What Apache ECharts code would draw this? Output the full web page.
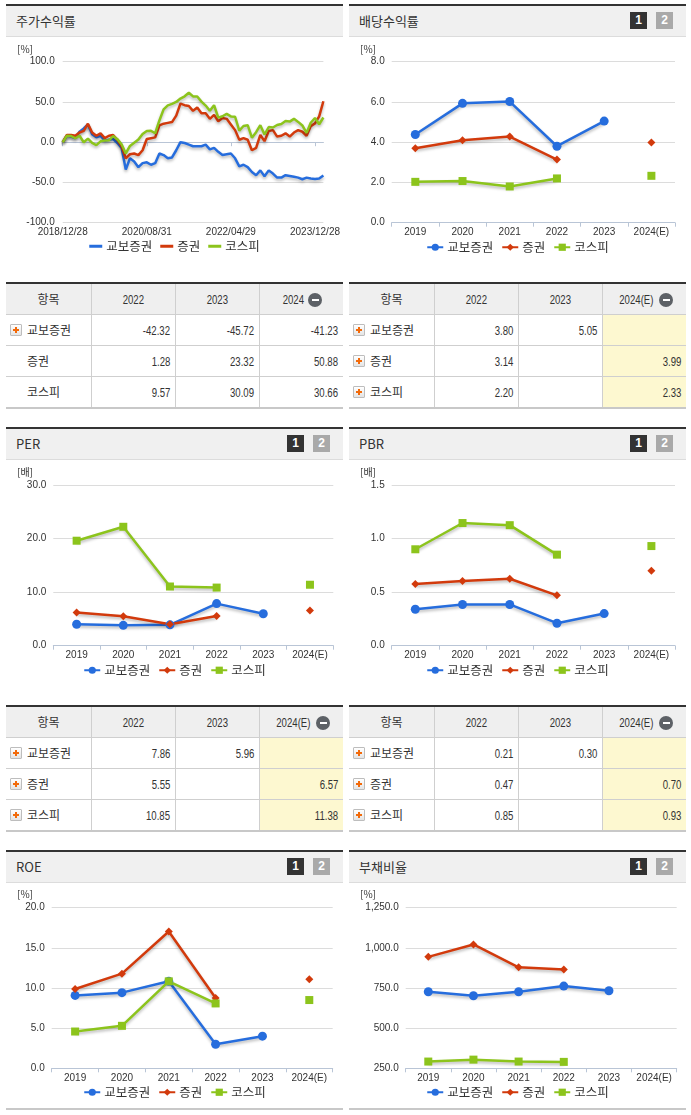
<!DOCTYPE html>
<html><head><meta charset="utf-8">
<script src="https://cdn.jsdelivr.net/npm/echarts@6/dist/echarts.min.js"></script>
<style>
html,body{margin:0;padding:0}
body{width:691px;height:1115px;background:#fff;position:relative;overflow:hidden;font-family:'Noto Sans CJK KR','Noto Sans',sans-serif;color:#333}
.hdr{position:absolute;width:337px;height:30px;background:#f0f0f0;border-top:2px solid #333;border-bottom:1px solid #dcdcdc}
.hdr .t{position:absolute;left:10px;top:0;line-height:30px;font-size:13px;color:#333}
.btn{position:absolute;top:6px;width:17px;height:17px;font:bold 12px 'Liberation Sans',Arial,sans-serif;color:#fff;text-align:center;line-height:17px}
.b1{left:281px;background:#333}.b2{left:307px;background:#a9a9a9}
.chart{position:absolute;width:337px;height:222px}
.cell{position:absolute;box-sizing:border-box;font-size:12px;white-space:nowrap}
.num{text-align:right;padding-right:5px}
.sq{display:inline-block;font-family:'Liberation Sans',Arial,sans-serif;font-size:12px;transform:scaleX(0.8)}
.num .sq{transform-origin:100% 50%}
.lab{font-size:12px}
.pl{position:absolute;left:4px;width:10px;height:10px;border:1px solid #bdbdbd;background:linear-gradient(#fff,#e4e4e4);border-radius:1px}
.pl:before{content:'';position:absolute;left:2px;top:4px;width:6px;height:2px;background:#f26a0a}
.pl:after{content:'';position:absolute;left:4px;top:2px;width:2px;height:6px;background:#f26a0a}
.mi{display:inline-block;width:14px;height:14px;border-radius:50%;background:#5d6166;position:relative;vertical-align:middle;margin-left:2px;margin-top:-2px}
.mi:after{content:'';position:absolute;left:3.5px;top:6px;width:7px;height:2px;background:#fff}
.line{position:absolute}
</style></head><body>
<script>
// ---------- DATA ----------
const seriesNames = ['교보증권', '증권', '코스피'];
const years = ['2019', '2020', '2021', '2022', '2023', '2024(E)'];

const stockDates = ['2018/12/28','2019/01','2019/02','2019/03','2019/04','2019/05','2019/06','2019/07','2019/08','2019/09','2019/10','2019/11','2019/12',
 '2020/01','2020/02','2020/03','2020/04','2020/05','2020/06','2020/07','2020/08/31','2020/09','2020/10','2020/11','2020/12',
 '2021/01','2021/02','2021/03','2021/04','2021/05','2021/06','2021/07','2021/08','2021/09','2021/10','2021/11','2021/12',
 '2022/01','2022/02','2022/03','2022/04/29','2022/05','2022/06','2022/07','2022/08','2022/09','2022/10','2022/11','2022/12',
 '2023/01','2023/02','2023/03','2023/04','2023/05','2023/06','2023/07','2023/08','2023/09','2023/10','2023/11','2023/12/28',
 '2024/01','2024/03'];
const stockKyobo = [0,8,7,5,13,17,22,10,6,8, 2,3,4,-1,-7,-34,-20,-24,-31,-26, -25,-28,-26,-14,-16,-20,-19,-10,0,-1,
 -3,-5,-5,-5,-3,-9,-7,-12,-16,-15, -14,-20,-30,-28,-31,-37,-41,-35,-42.32,-35, -39,-44,-44,-41,-42,-43,-44,-46,-44,-45, -45.72,-45,-41.23];
const stockSec = [0,9,9,8,12,14,23,12,8,11, 5,8,9,3,-5,-20,-15,-14,-16,-10, 4,5,6,21,23,24,25,33,48,46,
 45,39,43,36,36,29,34,26,30,29, 22,15,3,5,3,-10,-7,9,1.28,14, 15,7,8,11,7,12,15,13,8,20, 23.32,32,50.88];
const stockKospi = [0,8.0,7.6,4.9,8.0,0.0,4.4,-0.8,-3.6,1.1, 2.1,2.3,7.7,3.8,-2.6,-14.0,-4.6,-0.6,3.3,10.2,
 14.0,14.1,11.1,27.0,40.8,45.8,47.6,50.0,54.2,57.0, 61.5,56.9,56.7,50.4,45.5,39.1,45.9,30.5,32.2,35.1,
 32.0,31.6,14.3,20.1,21.1,5.6,12.4,21.1,9.57,18.8, 18.2,21.4,22.6,26.3,25.6,29.0,25.2,20.8,11.6,24.2, 30.09,22.3,30.66];

const divKyobo = [4.38, 5.93, 6.02, 3.80, 5.05, null];
const divSec   = [3.70, 4.10, 4.28, 3.14, null, 3.99];
const divKospi = [2.03, 2.07, 1.80, 2.20, null, 2.33];

const perKyobo = [4.0, 3.8, 3.9, 7.86, 5.96, null];
const perSec   = [6.2, 5.5, 4.0, 5.55, null, 6.57];
const perKospi = [19.6, 22.2, 11.05, 10.85, null, 11.38];

const pbrKyobo = [0.34, 0.385, 0.385, 0.21, 0.30, null];
const pbrSec   = [0.575, 0.605, 0.625, 0.47, null, 0.70];
const pbrKospi = [0.90, 1.145, 1.125, 0.85, null, 0.93];

const roeKyobo = [9.08, 9.42, 10.83, 3.0, 4.0, null];
const roeSec   = [9.88, 11.79, 17.04, 8.75, null, 11.08];
const roeKospi = [4.58, 5.29, 10.83, 8.08, null, 8.5];

const debtKyobo = [727, 702, 727, 762, 733, null];
const debtSec   = [944, 1021, 879, 865, null, null];
const debtKospi = [292, 304, 292, 290, null, null];

const tRetHead = ['항목', '2022', '2023', '2024'];
const tRetKyobo = ['-42.32', '-45.72', '-41.23'];
const tRetSec   = ['1.28', '23.32', '50.88'];
const tRetKospi = ['9.57', '30.09', '30.66'];

const tDivHead = ['항목', '2022', '2023', '2024(E)'];
const tDivKyobo = ['3.80', '5.05', ''];
const tDivSec   = ['3.14', '', '3.99'];
const tDivKospi = ['2.20', '', '2.33'];

const tPerHead = ['항목', '2022', '2023', '2024(E)'];
const tPerKyobo = ['7.86', '5.96', ''];
const tPerSec   = ['5.55', '', '6.57'];
const tPerKospi = ['10.85', '', '11.38'];

const tPbrHead = ['항목', '2022', '2023', '2024(E)'];
const tPbrKyobo = ['0.21', '0.30', ''];
const tPbrSec   = ['0.47', '', '0.70'];
const tPbrKospi = ['0.85', '', '0.93'];

// ---------- STYLE ----------
const C_BLUE = '#266ddd', C_RED = '#d23a0c', C_GREEN = '#8cc41c';
const AX_FONT = "'Liberation Sans',Arial,sans-serif";
const AX_SIZE = 10;
const KR_FONT = "'Noto Sans CJK KR','Noto Sans',sans-serif";
const SHADOW = {shadowColor: 'rgba(0,0,0,0.28)', shadowBlur: 3, shadowOffsetY: 2};

function el(tag, cls, style, html) {
  const d = document.createElement(tag);
  if (cls) d.className = cls;
  if (style) Object.assign(d.style, style);
  if (html != null) d.innerHTML = html;
  document.body.appendChild(d);
  return d;
}

function header(x, y, title, buttons) {
  const h = el('div', 'hdr', {left: x + 'px', top: y + 'px'});
  const t = document.createElement('div'); t.className = 't'; t.textContent = title; h.appendChild(t);
  if (buttons) {
    const b1 = document.createElement('div'); b1.className = 'btn b1'; b1.textContent = '1'; h.appendChild(b1);
    const b2 = document.createElement('div'); b2.className = 'btn b2'; b2.textContent = '2'; h.appendChild(b2);
  }
}

function table(x, y, head, names, rows, icons, yellow) {
  const cols = [0, 85, 169, 253, 337];
  const W = 337;
  el('div', 'line', {left: x + 'px', top: y + 'px', width: W + 'px', height: '2px', background: '#333'});
  el('div', 'line', {left: x + 'px', top: (y + 2) + 'px', width: W + 'px', height: '30px', background: '#efefef'});
  if (yellow) el('div', 'line', {left: (x + cols[3]) + 'px', top: (y + 33) + 'px', width: (W - cols[3]) + 'px', height: '92px', background: '#fdf8d0'});
  [32, 63, 94].forEach(o => el('div', 'line', {left: x + 'px', top: (y + o) + 'px', width: W + 'px', height: '1px', background: '#cfcfcf'}));
  el('div', 'line', {left: x + 'px', top: (y + 125) + 'px', width: W + 'px', height: '2px', background: '#c8c8c8'});
  [1, 2, 3].forEach(i => el('div', 'line', {left: (x + cols[i]) + 'px', top: (y + 2) + 'px', width: '1px', height: '123px', background: '#cfcfcf'}));
  head.forEach((h, i) => {
    let html;
    if (i === 0) html = h;
    else html = '<span class="sq" style="transform-origin:50% 50%">' + h + '</span>' + (i === 3 ? '<span class="mi"></span>' : '');
    el('div', 'cell', {left: (x + cols[i]) + 'px', top: (y + 2) + 'px', width: (cols[i + 1] - cols[i]) + 'px', height: '30px',
      lineHeight: '30px', textAlign: 'center', fontSize: '12px'}, html);
  });
  const rowTops = [33, 64, 95];
  rows.forEach((vals, r) => {
    const top = y + rowTops[r];
    const lab = el('div', 'cell lab', {left: x + 'px', top: top + 'px', width: cols[1] + 'px', height: '30px', lineHeight: '30px', paddingLeft: '21px'}, names[r]);
    if (icons[r]) { const p = document.createElement('span'); p.className = 'pl'; p.style.top = '9px'; lab.appendChild(p); }
    vals.forEach((v, c) => {
      el('div', 'cell num', {left: (x + cols[c + 1]) + 'px', top: top + 'px', width: (cols[c + 2] - cols[c + 1]) + 'px', height: '30px', lineHeight: '30px'},
        '<span class="sq">' + v + '</span>');
    });
  });
}

function chartDiv(x, y) {
  return el('div', 'chart', {left: x + 'px', top: y + 'px'});
}

function unitText(txt, top) {
  return {type: 'text', left: 11, top: top, style: {text: txt, fontSize: 10, fontFamily: KR_FONT, fill: '#333'}};
}

function legendCfg(top, iconRect) {
  const l = {top: top, left: 'center', padding: [5, 0, 5, 8], itemGap: 8, itemWidth: iconRect ? 13 : 16, itemHeight: iconRect ? 3 : 9,
    textStyle: {fontSize: 12.5, fontFamily: KR_FONT, color: '#333', padding: [0, 0, 0, -1]}, data: seriesNames.slice()};
  if (iconRect) l.icon = 'rect';
  return l;
}

function smallChart(x, y, g, yMin, yMax, yInt, unit, k, s, p, fmt) {
  const ch = echarts.init(chartDiv(x, y), null, {renderer: 'canvas'});
  const mk = (name, data, color, sym, size) => ({
    name: name, type: 'line', data: data, symbol: sym, symbolSize: size, showSymbol: true,
    lineStyle: Object.assign({width: 2.5, color: color}, SHADOW), itemStyle: {color: color}, connectNulls: false, z: 3
  });
  ch.setOption({
    animation: false,
    grid: {left: g[0], top: g[1], width: g[2], height: g[3]},
    graphic: [unitText(unit, 7)],
    legend: legendCfg(199, false),
    xAxis: {type: 'category', data: years, boundaryGap: true,
      axisLine: {lineStyle: {color: '#b9c5d6', width: 1}},
      axisTick: {show: true, length: 4, lineStyle: {color: '#b9c5d6'}},
      axisLabel: {interval: 0, fontSize: AX_SIZE, fontFamily: AX_FONT, color: '#333', margin: 5}},
    yAxis: {type: 'value', min: yMin, max: yMax, interval: yInt,
      axisLine: {show: false}, axisTick: {show: false},
      splitLine: {lineStyle: {color: '#dcdcdc', width: 1}},
      axisLabel: {fontSize: AX_SIZE, fontFamily: AX_FONT, color: '#333', margin: 7, formatter: fmt}},
    series: [mk(seriesNames[0], k, C_BLUE, 'circle', 9), mk(seriesNames[1], s, C_RED, 'diamond', 8), mk(seriesNames[2], p, C_GREEN, 'rect', 8)]
  });
}

const f1 = v => v.toFixed(1);
const fComma = v => v.toLocaleString('en-US', {minimumFractionDigits: 1, maximumFractionDigits: 1});

// ---------- LAYOUT ----------
header(6, 4, '주가수익률', false);
header(349, 4, '배당수익률', true);
header(6, 427, 'PER', true);
header(349, 427, 'PBR', true);
header(6, 850, 'ROE', true);
header(349, 850, '부채비율', true);

(function () {
  const ch = echarts.init(chartDiv(6, 37));
  const mk = (name, data, color) => ({name: name, type: 'line', data: data, showSymbol: false, symbol: 'none',
    lineStyle: Object.assign({width: 2.5, color: color}, SHADOW), itemStyle: {color: color}});
  ch.setOption({
    animation: false,
    grid: {left: 56.7, top: 24.7, width: 269, height: 161},
    graphic: [unitText('[%]', 7)],
    legend: legendCfg(198, true),
    xAxis: {type: 'category', data: stockDates, boundaryGap: false,
      axisLine: {lineStyle: {color: '#b9c5d6'}},
      axisTick: {show: true, interval: 19, length: 4, lineStyle: {color: '#b9c5d6'}},
      axisLabel: {interval: 19, fontSize: AX_SIZE, fontFamily: AX_FONT, color: '#333', margin: 5}},
    yAxis: {type: 'value', min: -100, max: 100, interval: 50,
      axisLine: {show: false}, axisTick: {show: false},
      splitLine: {lineStyle: {color: '#dcdcdc'}},
      axisLabel: {fontSize: AX_SIZE, fontFamily: AX_FONT, color: '#333', margin: 8, formatter: f1}},
    series: [mk(seriesNames[0], stockKyobo, C_BLUE), mk(seriesNames[1], stockSec, C_RED), mk(seriesNames[2], stockKospi, C_GREEN)]
  });
})();

smallChart(349, 37, [42.7, 24.7, 283.3, 161], 0, 8, 2, '[%]', divKyobo, divSec, divKospi, f1);
smallChart(6, 460, [47.3, 25, 280, 160.7], 0, 30, 10, '[배]', perKyobo, perSec, perKospi, f1);
smallChart(349, 460, [42.7, 25, 283.3, 160.7], 0, 1.5, 0.5, '[배]', pbrKyobo, pbrSec, pbrKospi, f1);
smallChart(6, 882, [45.7, 25.7, 281, 160.6], 0, 20, 5, '[%]', roeKyobo, roeSec, roeKospi, f1);
smallChart(349, 882, [56.7, 25.7, 271, 160.6], 250, 1250, 250, '[%]', debtKyobo, debtSec, debtKospi, fComma);

table(6, 282, tRetHead, seriesNames, [tRetKyobo, tRetSec, tRetKospi], [true, false, false], false);
table(349, 282, tDivHead, seriesNames, [tDivKyobo, tDivSec, tDivKospi], [true, true, true], true);
table(6, 705, tPerHead, seriesNames, [tPerKyobo, tPerSec, tPerKospi], [true, true, true], true);
table(349, 705, tPbrHead, seriesNames, [tPbrKyobo, tPbrSec, tPbrKospi], [true, true, true], true);

el('div', 'line', {left: '6px', top: '1108px', width: '337px', height: '2px', background: '#c8c8c8'});
el('div', 'line', {left: '349px', top: '1108px', width: '337px', height: '2px', background: '#c8c8c8'});
</script>
</body></html>
